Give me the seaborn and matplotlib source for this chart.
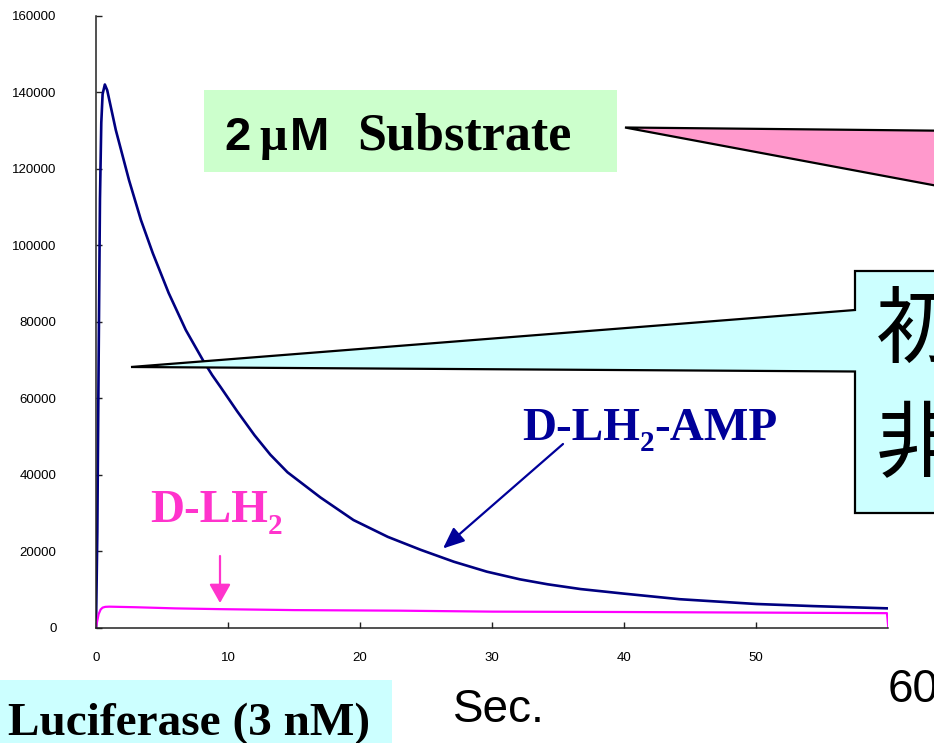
import matplotlib
matplotlib.use("Agg")
import matplotlib.pyplot as plt
from matplotlib.patches import Polygon, Rectangle, FancyArrowPatch
import seaborn as sns
import pandas as pd

# ---------------- data ----------------
amp_time = [0, 0.1, 0.2, 0.3, 0.4, 0.5, 0.67, 0.85, 1.5, 2.5, 3.4, 4.3, 5.5, 6.8,
            8.1, 8.8, 9.45, 10.7, 12.0, 13.2, 14.5, 17.0, 19.5, 22.1, 24.6, 27.1,
            29.6, 32.1, 34.2, 36.7, 40.0, 44.2, 50.0, 54.3, 60.0]
amp_signal = [0, 25000, 70000, 112000, 132000, 139500, 142000, 140500, 130100,
              117000, 106600, 97900, 87500, 77800, 69900, 66000, 62800, 56500,
              50300, 45200, 40600, 34000, 28100, 23700, 20300, 17200, 14600,
              12600, 11300, 10050, 8850, 7400, 6150, 5600, 5000]

lh2_time = [0, 0.1, 0.2, 0.35, 0.5, 0.7, 1.0, 3, 6, 9.4, 15, 23, 30, 40, 50, 59.9, 60]
lh2_signal = [0, 1800, 3500, 4700, 5200, 5400, 5450, 5300, 5000, 4800, 4550,
              4400, 4150, 4050, 3900, 3750, 0]

x_ticks = [0, 10, 20, 30, 40, 50]
y_ticks = [0, 20000, 40000, 60000, 80000, 100000, 120000, 140000, 160000]

amp_df = pd.DataFrame({"Sec": amp_time, "Signal": amp_signal})
lh2_df = pd.DataFrame({"Sec": lh2_time, "Signal": lh2_signal})

# ---------------- style ----------------
sns.set_style("white")
plt.rcParams["font.family"] = ["Liberation Sans", "DejaVu Sans"]
plt.rcParams["text.color"] = "black"

W, H = 934, 743
fig = plt.figure(figsize=(W / 100, H / 100), dpi=100)
fig.patch.set_facecolor("white")

ax_left, ax_right = 96 / W, 888.3 / W
ax_bottom, ax_top = 1 - 627.5 / H, 1 - 15.7 / H
ax = fig.add_axes([ax_left, ax_bottom, ax_right - ax_left, ax_top - ax_bottom])
ax.set_facecolor("white")

sns.lineplot(data=amp_df, x="Sec", y="Signal", color="#000080", linewidth=1.9,
             sort=False, ax=ax)
sns.lineplot(data=lh2_df, x="Sec", y="Signal", color="#ff00ff", linewidth=1.6,
             sort=False, ax=ax)

ax.set_xlim(0, 60)
ax.set_ylim(0, 160000)
ax.set_xticks(x_ticks)
ax.set_xticklabels([str(t) for t in x_ticks])
ax.set_yticks(y_ticks)
ax.set_yticklabels([str(t) for t in y_ticks])
ax.set_xlabel("")
ax.set_ylabel("")
for s in ["top", "right"]:
    ax.spines[s].set_visible(False)
for s in ["left", "bottom"]:
    ax.spines[s].set_color("#222222")
    ax.spines[s].set_linewidth(1.1)
ax.tick_params(axis="y", direction="in", length=4, width=1, color="#222222",
               pad=28.5, labelsize=9.5, left=True, labelcolor="black")
ax.tick_params(axis="x", direction="in", length=4, width=1, color="#222222",
               pad=17.5, labelsize=9.5, bottom=True, labelcolor="black")

renderer = fig.canvas.get_renderer()


def fx(x):
    return x / W


def fy(y):
    return 1 - y / H


def poly(points, **kw):
    p = Polygon([(fx(x), fy(y)) for x, y in points], closed=True,
                transform=fig.transFigure, **kw)
    fig.patches.append(p)


def rect(x0, y0, x1, y1, color):
    r = Rectangle((fx(x0), fy(y1)), fx(x1) - fx(x0), fy(y0) - fy(y1),
                  transform=fig.transFigure, facecolor=color, edgecolor="none",
                  zorder=1)
    fig.patches.append(r)


def runs(x, y, pieces, color="black", family="Liberation Serif", weight="bold"):
    """Place text pieces one after another on a baseline (pixel coords)."""
    cur = x
    for txt, size, dy in pieces:
        t = fig.text(fx(cur), fy(y + dy), txt, fontsize=size, fontweight=weight,
                     family=family, color=color, va="baseline", ha="left")
        bb = t.get_window_extent(renderer=renderer)
        cur += bb.width


# green label box
rect(204, 90, 617, 172, "#ccffcc")
fig.text(fx(224), fy(150), "2", fontsize=34, fontweight="bold",
         family="Liberation Sans", va="baseline", ha="left")
fig.text(fx(259), fy(150), "\u03bc", fontsize=35, fontweight="bold",
         family="Liberation Serif", va="baseline", ha="left")
fig.text(fx(290), fy(150), "M", fontsize=34, fontweight="bold",
         family="Liberation Sans", va="baseline", ha="left")
fig.text(fx(357), fy(150), "Substrate", fontsize=37.5, fontweight="bold",
         family="Liberation Serif", va="baseline", ha="left")

# pink callout wedge
poly([(625, 127.5), (970, 131), (970, 192)], facecolor="#ff99cc",
     edgecolor="black", linewidth=1.6, zorder=2)

# cyan callout with box
poly([(131, 367), (855, 310), (855, 271), (990, 271), (990, 513), (855, 513),
      (855, 371.5)], facecolor="#ccffff", edgecolor="black", linewidth=1.6,
     zorder=2)
fig.text(fx(876), fy(332), "初", fontsize=60, family=["Noto Sans CJK JP"],
         va="center", ha="left", zorder=3)
fig.text(fx(876), fy(446), "非", fontsize=60, family=["Noto Sans CJK JP"],
         va="center", ha="left", zorder=3)

# series labels (with real subscripts)
runs(522, 440, [("D-LH", 34, 0), ("2", 21, 11), ("-AMP", 34, 0)], color="#000099")
runs(150, 522, [("D-LH", 34, 0), ("2", 21, 12)], color="#ff33cc")

# arrows
fig.add_artist(FancyArrowPatch(
    (fx(563), fy(444)), (fx(443), fy(548.5)), transform=fig.transFigure,
    arrowstyle="-|>,head_length=13,head_width=5.5", color="#000099",
    linewidth=1.6, shrinkA=0, shrinkB=0))
fig.add_artist(FancyArrowPatch(
    (fx(220), fy(556)), (fx(220), fy(603)), transform=fig.transFigure,
    arrowstyle="-|>,head_length=11.5,head_width=6.5", color="#ff33cc",
    linewidth=1.6, shrinkA=0, shrinkB=0))

# axis text
fig.text(fx(453), fy(722), "Sec.", fontsize=33, family="Liberation Sans",
         va="baseline", ha="left")
fig.text(fx(888), fy(702), "60", fontsize=33, family="Liberation Sans",
         va="baseline", ha="left")

# bottom-left label box
rect(0, 680, 392, 743, "#ccffff")
fig.text(fx(8), fy(735), "Luciferase (3 nM)", fontsize=34, fontweight="bold",
         family="Liberation Serif", va="baseline", ha="left")

fig.savefig("out.png", dpi=100)
